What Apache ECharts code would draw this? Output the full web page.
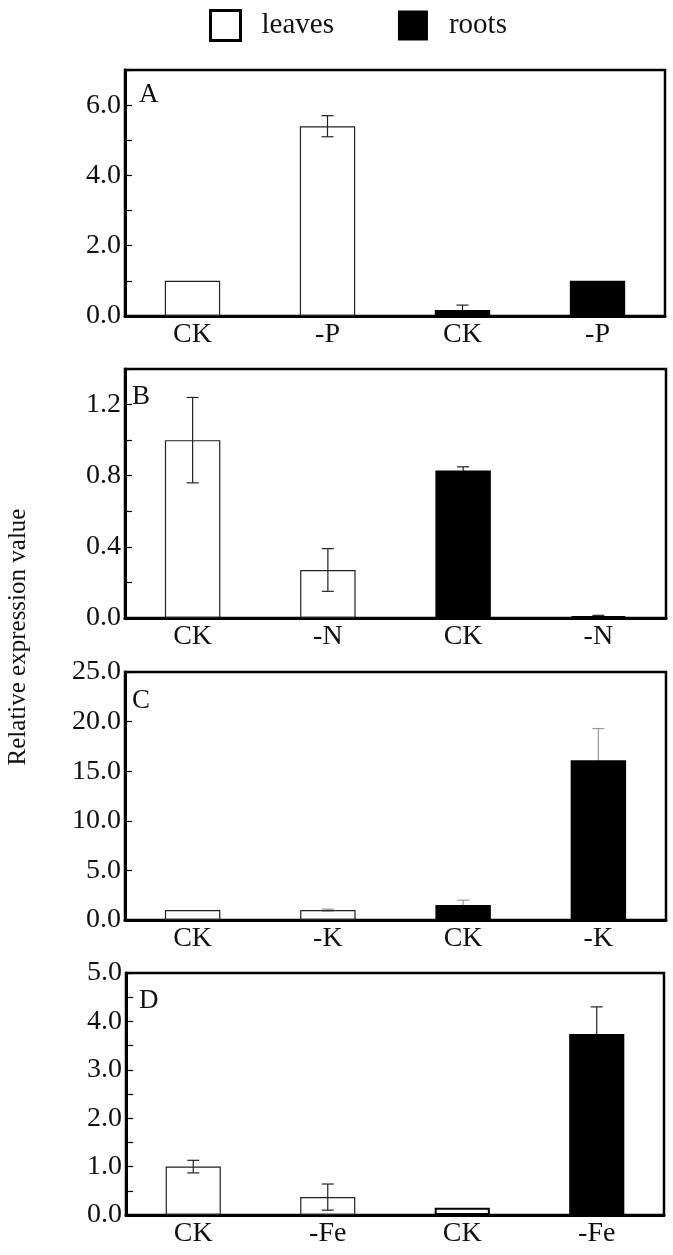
<!DOCTYPE html>
<html>
<head>
<meta charset="utf-8">
<script src="https://cdn.jsdelivr.net/npm/echarts@6/dist/echarts.min.js"></script>
<style>
  html, body { margin: 0; padding: 0; background: #fff; }
  #chart { width: 673px; height: 1255px; }
</style>
</head>
<body>
<div id="chart"></div>
<script>
// values (leaves: first two bars, roots: last two)
const categoriesA = ['CK', '-P', 'CK', '-P'];
const valuesA = [1.0, 5.4, 0.17, 1.0];
const errorsA = [0, 0.3, 0.14, 0];

const categoriesB = ['CK', '-N', 'CK', '-N'];
const valuesB = [1.0, 0.27, 0.83, 0.01];
const errorsB = [0.24, 0.12, 0.02, 0.005];

const categoriesC = ['CK', '-K', 'CK', '-K'];
const valuesC = [1.0, 1.0, 1.5, 16.1];
const errorsC = [0, 0.1, 0.5, 3.2];

const categoriesD = ['CK', '-Fe', 'CK', '-Fe'];
const valuesD = [1.0, 0.37, 0.15, 3.74];
const errorsD = [0.13, 0.27, 0, 0.56];

const panelLetters = ['A', 'B', 'C', 'D'];
const yMax = [7, 1.4, 25, 5];
const yStep = [1, 0.2, 5, 0.5];   // tick spacing
const yLabelEvery = [2, 2, 1, 2]; // label every n-th tick

const FONT = '"Liberation Serif", "DejaVu Serif", serif';

// layout (px)
const grids = [
  { left: 125, right: 8, top: 70, height: 246 },
  { left: 125, right: 7, top: 369, height: 249 },
  { left: 125, right: 7, top: 672, height: 248 },
  { left: 126, right: 9, top: 973, height: 242 },
];
const letterPos = [[139, 81], [132, 383], [132, 687], [139, 987]];
const hollowRoots = [[], [3], [], [2]]; // roots bars drawn white in the figure
const errColor = ['#222', '#222', '#999', '#222'];

const panels = [
  { cats: categoriesA, vals: valuesA, errs: errorsA },
  { cats: categoriesB, vals: valuesB, errs: errorsB },
  { cats: categoriesC, vals: valuesC, errs: errorsC },
  { cats: categoriesD, vals: valuesD, errs: errorsD },
];

const chart = echarts.init(document.getElementById('chart'), null, { renderer: 'canvas' });

const xAxis = [], yAxis = [], series = [], title = [];

panels.forEach((p, k) => {
  xAxis.push({
    type: 'category',
    gridIndex: k,
    data: p.cats,
    boundaryGap: true,
    axisLine: { lineStyle: { color: '#000', width: 3 } },
    axisTick: { inside: true, length: 6, lineStyle: { color: '#000', width: 1.2 } },
    axisLabel: { color: '#111', fontFamily: FONT, fontSize: 28, margin: 5 },
    splitLine: { show: false },
  });
  yAxis.push({
    type: 'value',
    gridIndex: k,
    min: 0,
    max: yMax[k],
    interval: yStep[k],
    axisLine: { show: true, lineStyle: { color: '#000', width: 3 } },
    axisTick: { show: true, inside: true, length: 7, lineStyle: { color: '#000', width: 1.2 } },
    axisLabel: {
      color: '#111', fontFamily: FONT, fontSize: 28, margin: 4,
      formatter: (v) => {
        const n = Math.round(v / yStep[k]);
        return n % yLabelEvery[k] === 0 ? v.toFixed(1) : '';
      },
    },
    splitLine: { show: false },
  });

  const leafData = p.vals.map((v, i) => (i < 2 ? v : '-'));
  const rootData = p.vals.map((v, i) => {
    if (i < 2) return '-';
    if (hollowRoots[k].includes(i)) {
      return { value: v, itemStyle: { color: 'transparent', borderColor: '#000', borderWidth: 2 } };
    }
    return v;
  });

  series.push({
    name: 'leaves',
    type: 'bar',
    xAxisIndex: k,
    yAxisIndex: k,
    data: leafData,
    barWidth: '41%',
    barGap: '-100%',
    z: 3,
    itemStyle: { color: 'transparent', borderColor: '#222', borderWidth: 1.2 },
  });
  series.push({
    name: 'roots',
    type: 'bar',
    xAxisIndex: k,
    yAxisIndex: k,
    data: rootData,
    barWidth: '41%',
    barGap: '-100%',
    z: 3,
    itemStyle: { color: '#000' },
  });
  series.push({
    type: 'custom',
    xAxisIndex: k,
    yAxisIndex: k,
    z: 2,
    silent: true,
    data: p.vals.map((v, i) => [i, v, p.errs[i]]),
    renderItem: (params, api) => {
      const i = api.value(0), v = api.value(1), e = api.value(2);
      if (!e) return null;
      const top = api.coord([i, v + e]);
      const bot = api.coord([i, Math.max(v - e, 0)]);
      const hw = 6;
      const style = { stroke: errColor[k], lineWidth: 1.2 };
      return {
        type: 'group',
        children: [
          { type: 'line', shape: { x1: top[0], y1: top[1], x2: bot[0], y2: bot[1] }, style },
          { type: 'line', shape: { x1: top[0] - hw, y1: top[1], x2: top[0] + hw, y2: top[1] }, style },
          { type: 'line', shape: { x1: bot[0] - hw, y1: bot[1], x2: bot[0] + hw, y2: bot[1] }, style },
        ],
      };
    },
  });

  title.push({
    text: panelLetters[k],
    left: letterPos[k][0],
    top: letterPos[k][1],
    padding: 0,
    textStyle: { fontFamily: FONT, fontSize: 27, fontWeight: 'normal', color: '#111' },
  });
});

const option = {
  animation: false,
  backgroundColor: '#fff',
  title,
  legend: {
    left: 209,
    top: 9,
    padding: 0,
    itemWidth: 30,
    itemHeight: 30,
    itemGap: 64,
    icon: 'rect',
    selectedMode: false,
    textStyle: { fontFamily: FONT, fontSize: 29, color: '#111', padding: [0, 0, 0, 16] },
    data: [
      { name: 'leaves', itemStyle: { color: '#fff', borderColor: '#000', borderWidth: 3 } },
      { name: 'roots', itemStyle: { color: '#000', borderWidth: 0 } },
    ],
  },
  grid: grids.map((g) => ({
    ...g,
    show: true,
    borderColor: '#000',
    borderWidth: 2.5,
    backgroundColor: 'transparent',
    containLabel: false,
  })),
  xAxis,
  yAxis,
  series,
  graphic: [
    {
      type: 'text',
      x: 18,
      y: 637,
      rotation: Math.PI / 2,
      style: {
        text: 'Relative expression value',
        fontFamily: FONT,
        fontSize: 25,
        fill: '#111',
        align: 'center',
        verticalAlign: 'middle',
      },
    },
  ],
};

chart.setOption(option);
</script>
</body>
</html>
